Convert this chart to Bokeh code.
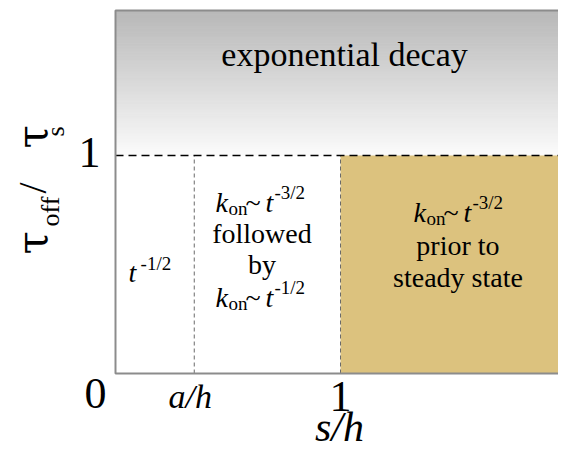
import numpy as np
from bokeh.plotting import figure
from bokeh.models import Range1d
from bokeh.core.properties import value
from bokeh.embed import file_html
from bokeh.resources import INLINE

# ---- data ----
a_h = 0.35              # a/h position on the s/h axis
s_cross = 1.0           # s/h = 1 boundary
tau_cross = 1.0         # tau_off/tau_s = 1 boundary
x_tick_vals = [0.0, a_h, 1.0]
x_tick_text = ["0", "a/h", "1"]
y_tick_vals = [1.0]
y_tick_text = ["1"]
region_labels = ["exponential decay", "followed", "by", "prior to", "steady state"]

# ---- layout (pixel scale of the plotting frame) ----
W, H = 558, 453
LEFT, BOTTOM_PX = 115, 373          # pixel position of (0, 0)
PX_X, PX_Y = 1 / 225, 1 / 218       # data units per pixel
X_START = -LEFT * PX_X
X_END = (W - LEFT) * PX_X
Y_START = -(H - BOTTOM_PX) * PX_Y
Y_END = BOTTOM_PX * PX_Y
Y_TOP = (BOTTOM_PX - 10) * PX_Y     # top of drawn frame

SERIF = "Liberation Serif"

p = figure(width=W, height=H, output_backend="svg", toolbar_location=None,
           x_range=Range1d(X_START, X_END), y_range=Range1d(Y_START, Y_END),
           min_border=0, min_border_left=0, min_border_right=0,
           min_border_top=0, min_border_bottom=0)
p.xaxis.visible = False
p.yaxis.visible = False
p.xgrid.visible = False
p.ygrid.visible = False
p.outline_line_color = None
p.background_fill_color = "white"
p.border_fill_color = "white"

# gray gradient above tau = 1 (style only)
n_bands = 80
edges = np.linspace(tau_cross, Y_TOP, n_bands + 1)
top_c = np.array([0xb8, 0xb8, 0xb8])
bot_c = np.array([0xfc, 0xfc, 0xfc])
cols = []
for i in range(n_bands):
    f = (i + 0.5) / n_bands
    c = (bot_c + (top_c - bot_c) * f).astype(int)
    cols.append("#%02x%02x%02x" % tuple(c))
p.quad(left=0, right=X_END, bottom=edges[:-1], top=edges[1:], fill_color=cols, line_color=cols, line_width=1)

# tan steady-state region
p.quad(left=[s_cross], right=[X_END], bottom=[0], top=[tau_cross], fill_color="#dcc27e", line_color=None)

# boundaries
p.segment(x0=[a_h, s_cross], y0=[0, 0], x1=[a_h, s_cross], y1=[tau_cross, tau_cross],
          line_color="#6a6a6a", line_width=1, line_dash="4 3")
p.line(x=[0, X_END], y=[tau_cross, tau_cross], line_color="black", line_width=1.5, line_dash="8 5")

# frame
p.line(x=[X_END, 0, 0, X_END], y=[Y_TOP, Y_TOP, 0, 0], line_color="#8c8c8c", line_width=2)

BODY = "28px"
SUB = "19px"


def txt(x, y, s, size=BODY, style="normal", dx=0, dy=0, align="left", angle=0, font=SERIF):
    """x, y in data units; dx, dy in pixels (dy positive = up)."""
    corr = max(10.0, 0.36 * float(size.replace("px", "")))
    if angle == 0:
        yy = y + (dy + corr) * PX_Y
        xx = x + dx * PX_X
    else:
        yy = y + dy * PX_Y
        xx = x + (dx - 10) * PX_X
    p.text(x=[xx], y=[yy], text=[s], text_font=value(font), text_font_size=size,
           text_font_style=style, text_color="black", text_align=align,
           text_baseline="alphabetic", angle=angle)


# exponential decay
txt(1.018, 1.408, region_labels[0], size="34px", align="center")

# left region: t^-1/2
txt(0.058, 0.415, "t", style="italic")
txt(0.058, 0.415, "-1/2", size=SUB, dx=12, dy=10)


def kon(x, y, sup):
    txt(x, y, "k", style="italic")
    txt(x, y, "on", size=SUB, dx=13, dy=-6)
    txt(x, y, "~", dx=30)
    txt(x, y, "t", style="italic", dx=50)
    txt(x, y, sup, size=SUB, dx=59, dy=10)


# middle region
kon(0.444, 0.7385, "-3/2")
txt(0.651, 0.596, region_labels[1], align="center")
txt(0.651, 0.454, region_labels[2], align="center")
kon(0.444, 0.3028, "-1/2")

# right region
kon(1.324, 0.693, "-3/2")
txt(1.522, 0.541, region_labels[3], align="center")
txt(1.522, 0.394, region_labels[4], align="center")

# tick labels
txt(x_tick_vals[0], 0, x_tick_text[0], size="44px", dx=-20, dy=-36, align="center")
txt(x_tick_vals[1], 0, x_tick_text[1], size="34px", style="italic", dx=-4, dy=-35, align="center")
txt(x_tick_vals[2], 0, x_tick_text[2], size="44px", dy=-39, align="center")
txt(0, y_tick_vals[0], y_tick_text[0], size="44px", dx=-15, dy=-13, align="right")

# axis titles
txt(1.0, 0, "s/h", size="42px", style="italic", dx=-1, dy=-69, align="center")
ang = np.pi / 2
txt(0, 0, "τ", size="42px", dx=-73, dy=119, angle=ang, font="DejaVu Serif")
txt(0, 0, "off", size="26px", dx=-55, dy=147, angle=ang)
txt(0, 0, "/", size="40px", dx=-73, dy=180, angle=ang)
txt(0, 0, "τ", size="42px", dx=-73, dy=225, angle=ang, font="DejaVu Serif")
txt(0, 0, "s", size="26px", dx=-50, dy=237, angle=ang)

open("out.html", "w").write(file_html(p, INLINE))
